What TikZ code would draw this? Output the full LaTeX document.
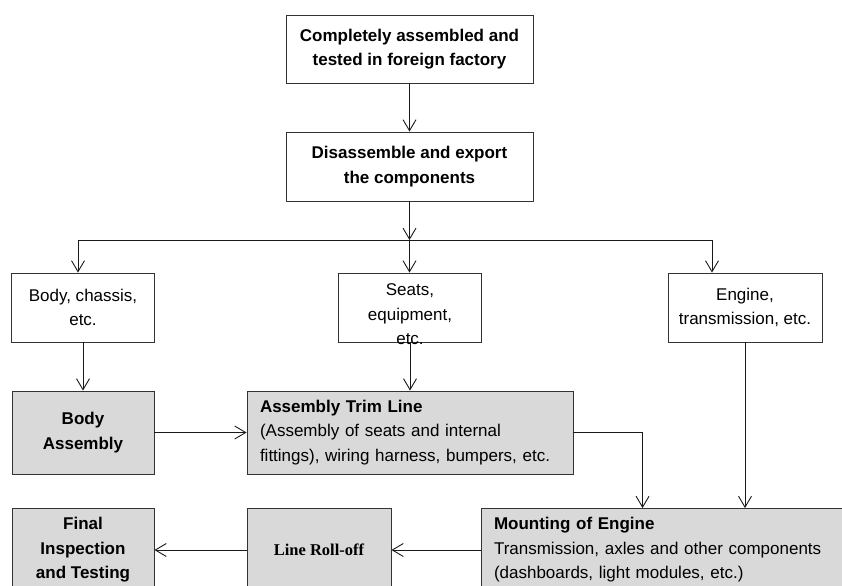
\documentclass[tikz,border=0pt]{standalone}
\usepackage{fontspec}
\setmainfont{Liberation Sans}
\newfontfamily\rollofffont{Liberation Serif}
\usepackage{tikz}
\usetikzlibrary{arrows.meta,positioning,calc}
\newcommand{\boxfont}{\fontsize{17bp}{24.5bp}\selectfont}

\begin{document}
\begin{tikzpicture}[
  x=1bp, y=-1bp,
  font=\boxfont,
  box/.style={
    draw=black!80,
    line width=.9pt,
    align=center,
    inner sep=0pt,
    fill=white
  },
  part/.style={box, minimum width=143bp, minimum height=69bp},
  stage/.style={box, fill=black!15, minimum height=83bp},
  arrow/.style={-{Straight Barb[length=11bp,width=13bp]}, line width=.9pt, draw=black!90}
]
\useasboundingbox (0,0) rectangle (842,586);
\clip (0,0) rectangle (842,586);

\node[box, minimum width=247bp, minimum height=68bp, font=\boxfont\bfseries] (assembled) at (409.5,49) {Completely assembled and\\tested in foreign factory};
\node[box, minimum width=247bp, minimum height=69bp, font=\boxfont\bfseries] (disassemble) at (409.5,166.5) {Disassemble and export\\the components};

\node[part] (body) at (83,307.5) {Body, chassis,\\etc.};
\node[part, label={[yshift=-7bp, align=center, font=\boxfont]center:{Seats,\\equipment,\\etc.}}] (seats) at (410,307.5) {};
\node[part, minimum width=154bp] (engine) at (745,307.5) {Engine,\\transmission, etc.};

\node[stage, minimum width=142bp, font=\boxfont\bfseries] (bodyasm) at (83,432.5) {Body\\Assembly};
\node[stage, minimum width=326bp, text width=300bp, align=left] (trim) at (410,432.5) {\textbf{Assembly Trim Line}\\(Assembly of seats and internal\\fittings), wiring harness, bumpers, etc.};

\node[stage, minimum width=142bp, font=\boxfont\bfseries] (final) at (83,550) {Final\\Inspection\\and Testing};
\node[stage, minimum width=144bp, font=\rollofffont\fontsize{16.5bp}{20bp}\selectfont\bfseries] (rolloff) at (319,550) {Line Roll-off};
\node[stage, minimum width=380bp, text width=354bp, align=left] (mounting) at (671,550) {\textbf{Mounting of Engine}\\Transmission, axles and other components\\(dashboards, light modules, etc.)};

\coordinate (split) at (409.5,240);

\draw[arrow] (assembled) -- (disassemble);
\draw[arrow] (disassemble) -- (split);
\draw[arrow] (split) -| ([xshift=-5bp]body.north);
\draw[arrow] (split) -- (split |- seats.north);
\draw[arrow] (split) -| ([xshift=-33bp]engine.north);
\draw[arrow] (body) -- (bodyasm);
\draw[arrow] (seats) -- (trim);
\draw[arrow] (engine) -- (engine |- mounting.north);
\draw[arrow] (bodyasm) -- (trim);
\draw[arrow] (trim.east) -| ([xshift=162bp]mounting.north west);
\draw[arrow] (mounting) -- (rolloff);
\draw[arrow] (rolloff) -- (final);
\end{tikzpicture}
\end{document}
